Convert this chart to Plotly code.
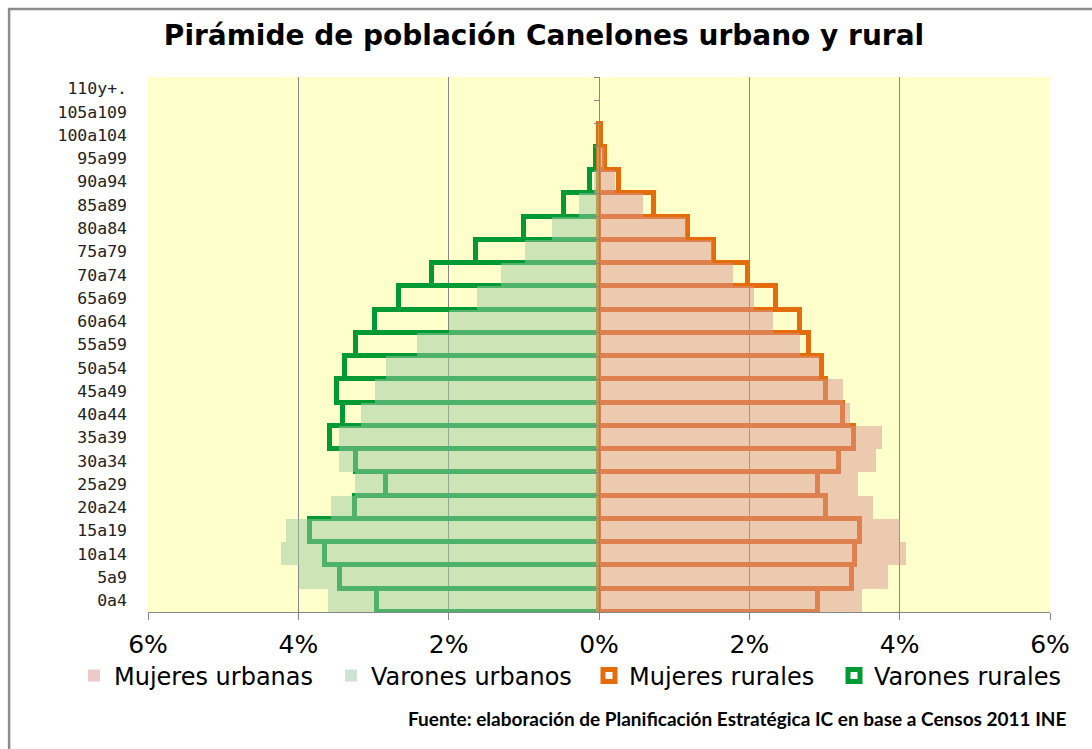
import plotly.graph_objects as go

# grupos de edad (de abajo hacia arriba)
edades = ["0a4", "5a9", "10a14", "15a19", "20a24", "25a29", "30a34", "35a39",
          "40a44", "45a49", "50a54", "55a59", "60a64", "65a69", "70a74", "75a79",
          "80a84", "85a89", "90a94", "95a99", "100a104", "105a109", "110y+."]

# porcentajes de la poblacion
mujeres_urbanas = [3.50, 3.84, 4.09, 4.00, 3.64, 3.45, 3.69, 3.76, 3.34, 3.25, 2.93, 2.68,
                   2.31, 2.06, 1.78, 1.50, 1.16, 0.59, 0.21, 0.06, 0.01, 0.0, 0.0]
varones_urbanos = [3.60, 3.99, 4.23, 4.16, 3.56, 3.25, 3.46, 3.46, 3.16, 2.98, 2.84, 2.42,
                   1.99, 1.62, 1.31, 0.99, 0.62, 0.27, 0.07, 0.03, 0.01, 0.0, 0.0]
mujeres_rurales = [2.91, 3.37, 3.40, 3.47, 3.02, 2.91, 3.19, 3.39, 3.25, 3.02, 2.97, 2.79,
                   2.68, 2.36, 1.98, 1.53, 1.19, 0.73, 0.26, 0.08, 0.03, 0.0, 0.0]
varones_rurales = [2.96, 3.45, 3.64, 3.84, 3.24, 2.84, 3.23, 3.58, 3.41, 3.49, 3.38, 3.23,
                   2.98, 2.66, 2.22, 1.63, 1.00, 0.46, 0.12, 0.04, 0.0, 0.0, 0.0]

ticks_x = [-6, -4, -2, 0, 2, 4, 6]
ticks_txt = ["6%", "4%", "2%", "0%", "2%", "4%", "6%"]

gris = "#868686"


def der(vals):
    # lado derecho (mujeres); los ceros no se dibujan
    return [v if v else None for v in vals]


def izq(vals):
    # lado izquierdo (varones)
    return [-v if v else None for v in vals]


fig = go.Figure()

# rurales: solo contorno (se dibujan primero, las urbanas van encima con transparencia)
fig.add_trace(go.Bar(y=edades, x=izq(varones_rurales), orientation="h", name="Varones rurales",
                     marker=dict(color="rgba(0,0,0,0)", line=dict(color="#009A34", width=5)),
                     legend="legend4"))
fig.add_trace(go.Bar(y=edades, x=der(mujeres_rurales), orientation="h", name="Mujeres rurales",
                     marker=dict(color="rgba(0,0,0,0)", line=dict(color="#E46C0A", width=5)),
                     legend="legend3"))

# urbanas: relleno claro
fig.add_trace(go.Bar(y=edades, x=der(mujeres_urbanas), orientation="h", name="Mujeres urbanas",
                     marker=dict(color="rgba(215,149,148,0.5)", line=dict(width=0)),
                     legend="legend"))
fig.add_trace(go.Bar(y=edades, x=izq(varones_urbanos), orientation="h", name="Varones urbanos",
                     marker=dict(color="rgba(155,201,162,0.5)", line=dict(width=0)),
                     legend="legend2"))

# eje auxiliar para las marcas sobre el 0%
fig.add_trace(go.Scatter(x=[0], y=[0], yaxis="y2", mode="markers", marker=dict(opacity=0),
                         showlegend=False, hoverinfo="skip"))

fuente_leyenda = dict(family="DejaVu Sans", size=24, color="black")


def leyenda(x_px):
    return dict(orientation="h", xref="container", x=x_px / 1092, xanchor="left",
                yref="container", y=1 - 676 / 749, yanchor="middle",
                font=fuente_leyenda, bgcolor="rgba(0,0,0,0)")


fig.update_layout(
    width=1092, height=749,
    margin=dict(l=148, r=42, t=77, b=137, autoexpand=False),
    paper_bgcolor="white", plot_bgcolor="#FFFFCC",
    barmode="overlay", bargap=0,
    title=dict(text="<b>Pirámide de población Canelones urbano y rural</b>",
               font=dict(family="DejaVu Sans", size=28, color="black"),
               xref="container", x=544 / 1092, xanchor="center",
               yref="container", y=1 - 35 / 749, yanchor="middle"),
    xaxis=dict(range=[-6, 6], tickvals=ticks_x, ticktext=ticks_txt,
               tickfont=dict(family="DejaVu Sans", size=25, color="black"),
               showgrid=True, gridcolor=gris, gridwidth=1,
               zeroline=True, zerolinecolor=gris, zerolinewidth=1,
               showline=True, linecolor=gris, linewidth=1,
               ticks="outside", ticklen=7, tickcolor=gris, ticklabelstandoff=3),
    yaxis=dict(type="category", categoryorder="array", categoryarray=edades,
               showgrid=False, zeroline=False, showline=False, ticks="",
               tickfont=dict(family="DejaVu Sans Mono", size=16.5, color="#222"),
               ticklabelstandoff=20),
    yaxis2=dict(overlaying="y", anchor="free", position=0.5, side="left",
                range=[-0.5, len(edades) - 0.5], tick0=-0.5, dtick=1,
                ticks="outside", ticklen=5, tickcolor=gris, showticklabels=False,
                showgrid=False, zeroline=False, showline=True, linecolor=gris),
    legend=leyenda(74),
    legend2=leyenda(331),
    legend3=leyenda(589),
    legend4=leyenda(834),
    showlegend=True,
)

# fuente
fig.add_annotation(text="<b>Fuente: elaboración de Planificación Estratégica IC en base a Censos 2011 INE</b>",
                   xref="paper", yref="paper", x=(1068 - 148) / 902, y=(612 - 718.5) / 535,
                   xanchor="right", yanchor="middle",
                   showarrow=False, font=dict(family="Lato", size=19, color="black"))

# marco del grafico
fig.add_shape(type="rect", xref="paper", yref="paper", x0=-0.154, x1=1.06, y0=-0.3, y1=1.127,
              line=dict(color="#8C8C8C", width=2.5), fillcolor="rgba(0,0,0,0)", layer="below")

fig.write_html("out.html", config={"displayModeBar": False},
               post_script="document.body.style.margin='0';")
